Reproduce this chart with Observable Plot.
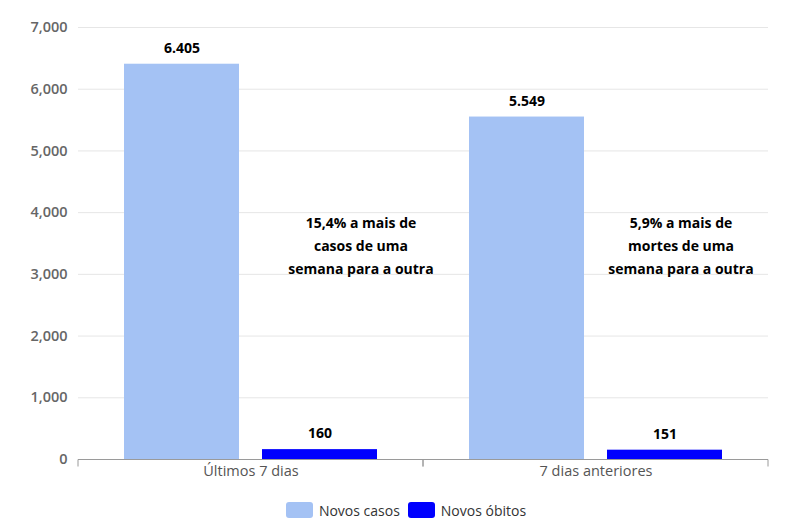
<!DOCTYPE html>
<html>
<head>
<meta charset="utf-8">
<script src="https://cdn.jsdelivr.net/npm/d3@7"></script>
<script src="https://cdn.jsdelivr.net/npm/@observablehq/plot@0.6"></script>
<style>
  body { margin: 0; background: #fff; font-family: "Open Sans", sans-serif; }
  #legend { display: flex; justify-content: center; align-items: center; height: 40px; padding-left: 12px; font-size: 14px; color: #333; }
  .item { display: flex; align-items: center; margin: 0 4px; }
  .sw { width: 27px; height: 16px; border-radius: 3px; margin-right: 6px; }
</style>
</head>
<body>
<div id="chart"></div>
<div id="legend"></div>
<script>
const categories = ["Últimos 7 dias", "7 dias anteriores"];
const series = ["Novos casos", "Novos óbitos"];
const casos = [6405, 5549];
const obitos = [160, 151];
const notes = [
  "15,4% a mais de\ncasos de uma\nsemana para a outra",
  "5,9% a mais de\nmortes de uma\nsemana para a outra"
];
const yTicks = [0, 1000, 2000, 3000, 4000, 5000, 6000, 7000];
const colors = ["#a4c2f4", "#0000ff"];

const data = categories.flatMap((c, i) => [
  {cat: c, serie: series[0], value: casos[i]},
  {cat: c, serie: series[1], value: obitos[i]}
]);
const noteData = categories.map((c, i) => ({cat: c, note: notes[i]}));

const chart = Plot.plot({
  width: 800,
  height: 490,
  marginLeft: 78,
  marginRight: 32,
  marginTop: 27,
  marginBottom: 31,
  style: {fontFamily: "Open Sans, sans-serif", background: "#fff"},
  fx: {domain: categories, padding: 0, label: null, axis: null},
  x: {domain: series, paddingInner: 0.1667, paddingOuter: 0.333, axis: null},
  y: {domain: [0, 7000], axis: null},
  color: {domain: series, range: colors},
  marks: [
    Plot.gridY(yTicks, {stroke: "#e6e6e6", strokeOpacity: 1}),
    Plot.axisY(yTicks, {tickSize: 0, tickPadding: 11, tickFormat: d3.format(","), fill: "#666", fontSize: 14.5, fontWeight: 600, label: null}),
    Plot.axisFx({anchor: "bottom", tickSize: 0, tickPadding: 6, fontSize: 14.5, fill: "#555", label: null}),
    Plot.barY(data, {fx: "cat", x: "serie", y: "value", fill: "serie"}),
    Plot.ruleY([0], {
      stroke: "#9a9a9a",
      render(index, scales, values, dimensions, context, next) {
        const g = next(index, scales, values, dimensions, context);
        g.querySelectorAll("line").forEach(l => {
          const y = +l.getAttribute("y1");
          for (const a of ["x1", "x2"]) {
            const x = l.getAttribute(a);
            const t = document.createElementNS("http://www.w3.org/2000/svg", "line");
            t.setAttribute("x1", x); t.setAttribute("x2", x);
            t.setAttribute("y1", y); t.setAttribute("y2", y + 7);
            t.setAttribute("stroke", "#9a9a9a");
            l.parentNode.appendChild(t);
          }
        });
        return g;
      }
    }),
    Plot.text(data, {fx: "cat", x: "serie", y: "value", text: d => d.value.toLocaleString("pt-BR"), dy: -16, fontWeight: "bold", fontSize: 14, fill: "#000"}),
    Plot.text([noteData[0]], {fx: "cat", x: () => series[1], y: () => 3500, text: "note", dx: 41, fontWeight: "bold", fontSize: 14, lineHeight: 1.65, fill: "#000"}),
    Plot.text([noteData[1]], {fx: "cat", x: () => series[1], y: () => 3500, text: "note", dx: 16, fontWeight: "bold", fontSize: 14, lineHeight: 1.65, fill: "#000"})
  ]
});
document.getElementById("chart").appendChild(chart);

const legend = document.getElementById("legend");
series.forEach((s, i) => {
  const item = document.createElement("div");
  item.className = "item";
  const sw = document.createElement("div");
  sw.className = "sw";
  sw.style.background = colors[i];
  const label = document.createElement("span");
  label.textContent = s;
  item.appendChild(sw);
  item.appendChild(label);
  legend.appendChild(item);
});
</script>
</body>
</html>
